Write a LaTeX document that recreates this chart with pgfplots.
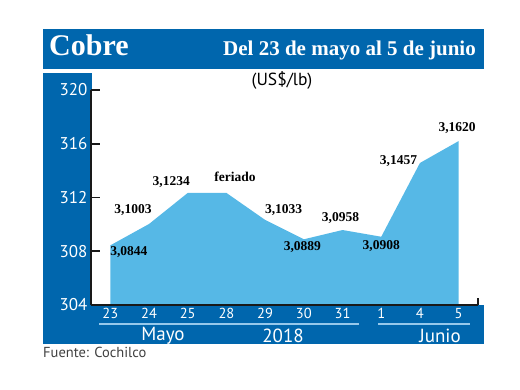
\documentclass[border=0pt]{standalone}
\usepackage{fontspec}
\setmainfont{Liberation Serif}
\setsansfont{PT Sans}
\usepackage{pgfplots}
\pgfplotsset{compat=1.18}
\definecolor{dblue}{RGB}{0,102,173}
\definecolor{lblue}{RGB}{86,184,230}
\definecolor{uline}{RGB}{150,200,235}
\begin{document}
\begin{tikzpicture}[x=1pt,y=1pt]
\path[use as bounding box] (0,0) rectangle (520,390);
\fill[dblue] (43,321) rectangle (484,361);
\fill[dblue] (43,46) rectangle (92,317);
\fill[dblue] (43,46) rectangle (484,85);
\node[anchor=base west, text=white, inner sep=0, font=\fontsize{30}{32}\selectfont\bfseries] at (49,334) {Cobre};
\node[anchor=base east, text=white, inner sep=0, font=\fontsize{21}{23}\selectfont\bfseries] at (476,334) {Del 23 de mayo al 5 de junio};
\node[font=\sffamily\fontsize{17.5}{19}\selectfont] at (282,310) {(US\$/lb)};
\draw[uline, line width=1.3pt] (99,66) -- (359,66);
\draw[uline, line width=1.3pt] (378,66) -- (470,66);
\node[text=white, font=\sffamily\fontsize{19}{20}\selectfont] at (163,54) {Mayo};
\node[text=white, font=\sffamily\fontsize{19}{20}\selectfont] at (283,54) {2018};
\node[text=white, font=\sffamily\fontsize{19}{20}\selectfont] at (440,54) {Junio};
\node[anchor=west, inner sep=0, text=black!75, font=\sffamily\fontsize{14.5}{15}\selectfont] at (43,38) {Fuente: Cochilco};
\begin{axis}[at={(91pt,85pt)}, anchor=south west, scale only axis,
  width=387pt, height=215pt,
  xmin=-0.5, xmax=9.5, ymin=304, ymax=320,
  axis x line=bottom, axis y line=left,
  axis line style={line width=1.8pt, black!90, -},
  axis on top, clip=false,
  ytick={304,308,312,316,320},
  xtick={0,...,9},
  xticklabels={23,24,25,28,29,30,31,1,4,5},
  x tick style={draw=none},
  y tick style={line width=1.8pt, black!90},
  tick align=inside, major tick length=9pt,
  /pgf/number format/assume math mode=true,
  yticklabel style={font=\sffamily\fontsize{17}{17}\selectfont, text=white, xshift=0pt},
  xticklabel style={font=\sffamily\fontsize{14.5}{14.5}\selectfont, text=white, yshift=0pt},
]
\addplot[fill=lblue, draw=none] coordinates {
(0,308.44) (1,310.03) (2,312.34) (3,312.34) (4,310.33) (5,308.89) (6,309.58) (7,309.08) (8,314.57) (9,316.20)
} -- (axis cs:9,304) -- (axis cs:0,304) -- cycle;
\draw[line width=1.8pt, black!90] (axis cs:9.5,304) -- (axis cs:9.5,304.55);
\begin{scope}[every node/.style={font=\bfseries\fontsize{13.5}{13.5}\selectfont, inner sep=0}]
\node[xshift=18.5pt, yshift=-7pt] at (axis cs:0,308.44) {3,0844};
\node[xshift=-16pt, yshift=14pt] at (axis cs:1,310.03) {3,1003};
\node[xshift=-16.5pt, yshift=11pt] at (axis cs:2,312.34) {3,1234};
\node[xshift=8.5pt, yshift=16pt] at (axis cs:3,312.34) {feriado};
\node[xshift=18.5pt, yshift=10pt] at (axis cs:4,310.33) {3,1033};
\node[xshift=-1.5pt, yshift=-8pt] at (axis cs:5,308.89) {3,0889};
\node[xshift=-2pt, yshift=12pt] at (axis cs:6,309.58) {3,0958};
\node[xshift=0pt, yshift=-9.5pt] at (axis cs:7,309.08) {3,0908};
\node[xshift=-21.5pt, yshift=2pt] at (axis cs:8,314.57) {3,1457};
\node[xshift=-1.5pt, yshift=13pt] at (axis cs:9,316.20) {3,1620};
\end{scope}
\end{axis}
\end{tikzpicture}
\end{document}
